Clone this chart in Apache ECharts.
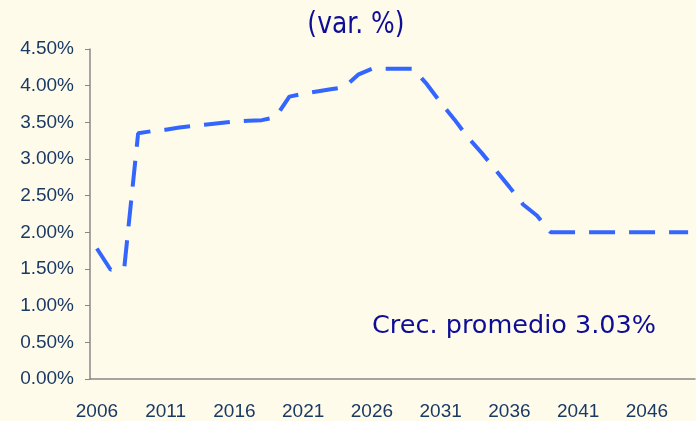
<!DOCTYPE html>
<html>
<head>
<meta charset="utf-8">
<script src="https://cdn.jsdelivr.net/npm/echarts@6/dist/echarts.min.js"></script>
<style>
  html, body { margin: 0; padding: 0; background: #fffbeb; }
  #chart { width: 696px; height: 421px; }
</style>
</head>
<body>
<div id="chart"></div>
<script>
const years = [];
for (let y = 2006; y <= 2049; y++) years.push(String(y));

// growth rate, % per year
const growth = [
  1.78, 1.49, 1.53, 3.35, 3.38, 3.40, 3.43, 3.45, 3.47, 3.49,
  3.51, 3.52, 3.53, 3.57, 3.85, 3.89, 3.92, 3.95, 3.98, 4.15,
  4.23, 4.23, 4.23, 4.23, 4.02, 3.77, 3.54, 3.29, 3.08, 2.85,
  2.62, 2.38, 2.23, 2.00, 2.00, 2.00, 2.00, 2.00, 2.00, 2.00,
  2.00, 2.00, 2.00, 2.00
];

const TITLE = "(var. %)";
const NOTE = "Crec. promedio 3.03%";

const LINE = "#3366ff";
const TEXT = "#1a3a66";
const NAVY = "#0d0d96";

const chart = echarts.init(document.getElementById("chart"), null, { renderer: "canvas" });

chart.setOption({
  backgroundColor: "#fffbeb",
  animation: false,
  grid: { left: 90, right: 1, top: 49, bottom: 40, containLabel: false },
  graphic: [
    {
      type: "text", x: 356, y: 25, scaleY: 1.2,
      style: {
        text: TITLE, font: "25px 'DejaVu Sans'", fill: NAVY,
        align: "center", verticalAlign: "middle"
      }
    },
    {
      type: "text", x: 514, y: 326,
      style: {
        text: NOTE, font: "25.5px 'DejaVu Sans'", fill: NAVY,
        align: "center", verticalAlign: "middle"
      }
    }
  ],
  xAxis: {
    type: "category",
    data: years,
    boundaryGap: true,
    axisLine: { lineStyle: { color: "#888", width: 1.5 } },
    axisTick: { show: false },
    axisLabel: {
      interval: 4, margin: 23, color: TEXT,
      fontFamily: "Liberation Sans", fontSize: 19
    },
    splitLine: { show: false }
  },
  yAxis: {
    type: "value",
    min: 0, max: 4.5, interval: 0.5,
    axisLine: { show: true, lineStyle: { color: "#888", width: 1.5 } },
    axisTick: { show: true, length: 5, lineStyle: { color: "#888" } },
    axisLabel: {
      margin: 16, color: TEXT, fontFamily: "Liberation Sans", fontSize: 19,
      formatter: (v) => v.toFixed(2) + "%"
    },
    splitLine: { show: false }
  },
  series: [{
    type: "line",
    data: growth,
    symbol: "none",
    lineStyle: { color: LINE, width: 4, type: [26, 14], cap: "butt" }
  }]
});
</script>
</body>
</html>
